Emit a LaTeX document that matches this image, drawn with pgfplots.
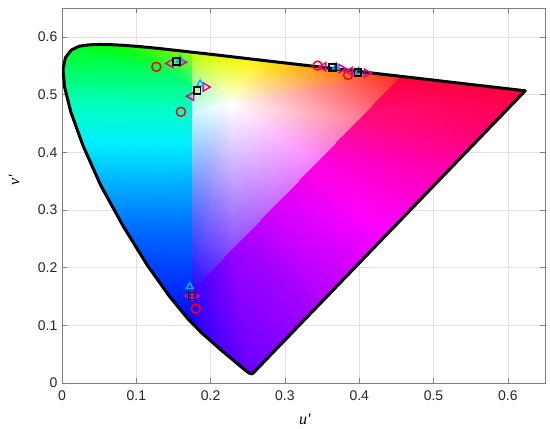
\documentclass[border=0pt]{standalone}
\usepackage{fontspec}
\setmainfont{Liberation Sans}
\newfontfamily\lserif{Liberation Serif}
\usepackage{pgfplots}
\pgfplotsset{compat=1.18}
\definecolor{mcyan}{rgb}{0.0,0.68,1}
\definecolor{axgray}{rgb}{0.5,0.5,0.5}

\begin{document}
\begin{tikzpicture}
\begin{axis}[name=ax,
  width=362.25pt, height=281.25pt, scale only axis,
  xmin=0, xmax=0.65, ymin=0, ymax=0.65,
  xtick={0,0.1,0.2,0.3,0.4,0.5,0.6},
  ytick={0,0.1,0.2,0.3,0.4,0.5,0.6},
  grid=major, major grid style={black!12, line width=0.4pt},
  axis line style={axgray, line width=0.6pt},
  tick align=inside, major tick length=3.75pt,
  tick style={axgray, line width=0.5pt},
  ticklabel style={font=\fontsize{10.5}{12}\selectfont, text=black!85},
  /pgf/number format/assume math mode=true,
  xticklabel style={yshift=-2pt},
  xlabel={\lserif\itshape u'}, ylabel={\lserif\itshape v'},
  xlabel style={font=\fontsize{12}{14}\selectfont, at={(axis description cs:0.503,-0.096)}, anchor=center},
  ylabel style={font=\fontsize{12}{14}\selectfont, at={(axis description cs:-0.099,0.54)}, anchor=center},
]
% colour fill: triangles with explicit vertex colours
\addplot[patch, patch type=triangle, shader=interp, mesh/color input=explicit,
  point meta=explicit symbolic] table[meta=c] {
x y c
0.175 0.104 rgb=0.05,0,1
0.1690 0.1119 rgb=0.02,0.02,1
0.175 0.1119 rgb=0.02,0.02,1
0.1690 0.1119 rgb=0.02,0.02,1
0.1441 0.1510 rgb=0,0.15,1
0.175 0.158 rgb=0,0.16,1
0.1690 0.1119 rgb=0.02,0.02,1
0.175 0.158 rgb=0,0.16,1
0.175 0.1119 rgb=0.02,0.02,1
0.1441 0.1510 rgb=0,0.15,1
0.1147 0.2044 rgb=0,0.27,1
0.175 0.2044 rgb=0,0.27,1
0.1441 0.1510 rgb=0,0.15,1
0.175 0.2044 rgb=0,0.27,1
0.175 0.158 rgb=0,0.16,1
0.1147 0.2044 rgb=0,0.27,1
0.0828 0.2708 rgb=0,0.44,1
0.175 0.2708 rgb=0,0.44,1
0.1147 0.2044 rgb=0,0.27,1
0.175 0.2708 rgb=0,0.44,1
0.175 0.2044 rgb=0,0.27,1
0.0828 0.2708 rgb=0,0.44,1
0.0521 0.3427 rgb=0,0.68,1
0.175 0.3427 rgb=0,0.68,1
0.0828 0.2708 rgb=0,0.44,1
0.175 0.3427 rgb=0,0.68,1
0.175 0.2708 rgb=0,0.44,1
0.0521 0.3427 rgb=0,0.68,1
0.0282 0.4117 rgb=0,0.93,1
0.175 0.4117 rgb=0,0.93,1
0.0521 0.3427 rgb=0,0.68,1
0.175 0.4117 rgb=0,0.93,1
0.175 0.3427 rgb=0,0.68,1
0.0282 0.4117 rgb=0,0.93,1
0.0119 0.4698 rgb=0,1,0.8
0.175 0.4698 rgb=0,1,0.8
0.0282 0.4117 rgb=0,0.93,1
0.175 0.4698 rgb=0,1,0.8
0.175 0.4117 rgb=0,0.93,1
0.0119 0.4698 rgb=0,1,0.8
0.0035 0.5131 rgb=0,1,0.55
0.175 0.5131 rgb=0,1,0.55
0.0119 0.4698 rgb=0,1,0.8
0.175 0.5131 rgb=0,1,0.55
0.175 0.4698 rgb=0,1,0.8
0.175 0.5131 rgb=0,1,0.55
0.0035 0.5131 rgb=0,1,0.55
0.0014 0.5432 rgb=0,1,0.38
0.175 0.5131 rgb=0,1,0.55
0.0014 0.5432 rgb=0,1,0.38
0.0046 0.5638 rgb=0,1,0.25
0.175 0.5131 rgb=0,1,0.55
0.0046 0.5638 rgb=0,1,0.25
0.0123 0.5770 rgb=0,1,0.18
0.175 0.5131 rgb=0,1,0.55
0.0123 0.5770 rgb=0,1,0.18
0.0231 0.5837 rgb=0,1,0.12
0.175 0.5131 rgb=0,1,0.55
0.0231 0.5837 rgb=0,1,0.12
0.0360 0.5861 rgb=0,1,0.08
0.175 0.5131 rgb=0,1,0.55
0.0360 0.5861 rgb=0,1,0.08
0.0501 0.5868 rgb=0,1,0.04
0.175 0.5131 rgb=0,1,0.55
0.0501 0.5868 rgb=0,1,0.04
0.0792 0.5856 rgb=0.05,1,0
0.175 0.5131 rgb=0,1,0.55
0.0792 0.5856 rgb=0.05,1,0
0.1127 0.5821 rgb=0.22,1,0
0.175 0.5131 rgb=0,1,0.55
0.1127 0.5821 rgb=0.22,1,0
0.1531 0.5766 rgb=0.45,1,0
0.175 0.5131 rgb=0,1,0.55
0.1531 0.5766 rgb=0.45,1,0
0.175 0.5734 rgb=0.6,1,0
0.228 0.482 rgb=1,1,1
0.175 0.5734 rgb=0.72,1,0
0.2026 0.5694 rgb=0.85,1,0
0.228 0.482 rgb=1,1,1
0.2026 0.5694 rgb=0.85,1,0
0.2623 0.5604 rgb=1,0.95,0
0.228 0.482 rgb=1,1,1
0.2623 0.5604 rgb=1,0.95,0
0.3315 0.5501 rgb=1,0.68,0
0.228 0.482 rgb=1,1,1
0.3315 0.5501 rgb=1,0.68,0
0.4035 0.5393 rgb=1,0.4,0
0.228 0.482 rgb=1,1,1
0.4035 0.5393 rgb=1,0.4,0
0.457 0.531 rgb=1,0.15,0.1
0.228 0.482 rgb=1,1,1
0.457 0.531 rgb=1,0.15,0.1
0.4006 0.4564 rgb=1,0.5,0.6
0.228 0.482 rgb=1,1,1
0.4006 0.4564 rgb=1,0.5,0.6
0.3442 0.3818 rgb=0.98,0.5,1
0.228 0.482 rgb=1,1,1
0.3442 0.3818 rgb=0.98,0.5,1
0.2878 0.3072 rgb=0.78,0.42,1
0.228 0.482 rgb=1,1,1
0.2878 0.3072 rgb=0.78,0.42,1
0.2314 0.2326 rgb=0.55,0.3,1
0.228 0.482 rgb=1,1,1
0.2314 0.2326 rgb=0.55,0.3,1
0.175 0.158 rgb=0.12,0.02,1
0.228 0.482 rgb=1,1,1
0.175 0.158 rgb=0.12,0.02,1
0.175 0.2044 rgb=0.16,0.16,1
0.228 0.482 rgb=1,1,1
0.175 0.2044 rgb=0.16,0.16,1
0.175 0.2708 rgb=0.28,0.35,1
0.228 0.482 rgb=1,1,1
0.175 0.2708 rgb=0.28,0.35,1
0.175 0.3427 rgb=0.42,0.58,1
0.228 0.482 rgb=1,1,1
0.175 0.3427 rgb=0.42,0.58,1
0.175 0.4117 rgb=0.58,0.82,1
0.228 0.482 rgb=1,1,1
0.175 0.4117 rgb=0.58,0.82,1
0.175 0.4698 rgb=0.8,0.98,1
0.228 0.482 rgb=1,1,1
0.175 0.4698 rgb=0.8,0.98,1
0.175 0.5131 rgb=0.62,1,0.7
0.228 0.482 rgb=1,1,1
0.175 0.5131 rgb=0.62,1,0.7
0.175 0.545 rgb=0.68,1,0.35
0.228 0.482 rgb=1,1,1
0.175 0.545 rgb=0.68,1,0.35
0.175 0.5734 rgb=0.72,1,0
0.457 0.531 rgb=1,0,0.2
0.4692 0.5296 rgb=1,0,0.22
0.4006 0.4564 rgb=1,0.05,0.5
0.4692 0.5296 rgb=1,0,0.22
0.5203 0.5219 rgb=1,0,0.25
0.4006 0.4564 rgb=1,0.05,0.5
0.5203 0.5219 rgb=1,0,0.25
0.5830 0.5125 rgb=1,0,0.25
0.4006 0.4564 rgb=1,0.05,0.5
0.5830 0.5125 rgb=1,0,0.25
0.6234 0.5065 rgb=1,0,0.25
0.4006 0.4564 rgb=1,0.05,0.5
0.6234 0.5065 rgb=1,0,0.25
0.5776 0.4452 rgb=1,0,0.4
0.4006 0.4564 rgb=1,0.05,0.5
0.5776 0.4452 rgb=1,0,0.4
0.5318 0.3840 rgb=1,0,0.62
0.4006 0.4564 rgb=1,0.05,0.5
0.4006 0.4564 rgb=1,0.05,0.5
0.5318 0.3840 rgb=1,0,0.62
0.3442 0.3818 rgb=1,0,0.88
0.5318 0.3840 rgb=1,0,0.62
0.4401 0.2616 rgb=1,0,1
0.3442 0.3818 rgb=1,0,0.88
0.3442 0.3818 rgb=1,0,0.88
0.4401 0.2616 rgb=1,0,1
0.2878 0.3072 rgb=0.85,0,1
0.4401 0.2616 rgb=1,0,1
0.3485 0.1391 rgb=0.68,0,1
0.2878 0.3072 rgb=0.85,0,1
0.2878 0.3072 rgb=0.85,0,1
0.3485 0.1391 rgb=0.68,0,1
0.2314 0.2326 rgb=0.6,0,1
0.3485 0.1391 rgb=0.68,0,1
0.2568 0.0166 rgb=0.42,0,1
0.2314 0.2326 rgb=0.6,0,1
0.2314 0.2326 rgb=0.6,0,1
0.2568 0.0166 rgb=0.42,0,1
0.2557 0.0159 rgb=0.42,0,1
0.2314 0.2326 rgb=0.6,0,1
0.2557 0.0159 rgb=0.42,0,1
0.2522 0.0169 rgb=0.42,0,1
0.2314 0.2326 rgb=0.6,0,1
0.2522 0.0169 rgb=0.42,0,1
0.2461 0.0226 rgb=0.4,0,1
0.2314 0.2326 rgb=0.6,0,1
0.2461 0.0226 rgb=0.4,0,1
0.2347 0.0350 rgb=0.36,0,1
0.2314 0.2326 rgb=0.6,0,1
0.2347 0.0350 rgb=0.36,0,1
0.2161 0.0549 rgb=0.3,0,1
0.2314 0.2326 rgb=0.6,0,1
0.2161 0.0549 rgb=0.3,0,1
0.1877 0.0871 rgb=0.2,0,1
0.2314 0.2326 rgb=0.6,0,1
0.1877 0.0871 rgb=0.2,0,1
0.175 0.104 rgb=0.12,0,1
0.2314 0.2326 rgb=0.6,0,1
0.175 0.104 rgb=0.12,0,1
0.175 0.1119 rgb=0.12,0,1
0.2314 0.2326 rgb=0.6,0,1
0.175 0.1119 rgb=0.12,0,1
0.175 0.158 rgb=0.2,0,1
};
% spectral locus and purple line
\addplot[black, line width=2.25pt, line join=round, line cap=round] coordinates {
(0.2568,0.0166) (0.2557,0.0159) (0.2522,0.0169) (0.2461,0.0226) (0.2347,0.0350)
(0.2161,0.0549) (0.1877,0.0871) (0.1690,0.1119) (0.1441,0.1510) (0.1147,0.2044)
(0.0828,0.2708) (0.0521,0.3427) (0.0282,0.4117) (0.0119,0.4698) (0.0035,0.5131)
(0.0014,0.5432) (0.0046,0.5638) (0.0123,0.5770) (0.0231,0.5837) (0.0360,0.5861)
(0.0501,0.5868) (0.0643,0.5865) (0.0792,0.5856) (0.0953,0.5841) (0.1127,0.5821)
(0.1319,0.5796) (0.1531,0.5766) (0.2026,0.5694) (0.2623,0.5604) (0.3315,0.5501)
(0.4035,0.5393) (0.4692,0.5296) (0.5203,0.5219) (0.5830,0.5125) (0.6234,0.5065)
(0.2568,0.0166)
};
% measured points
\addplot[only marks, mark=o, red, mark size=3.4pt, line width=1.1pt] coordinates {
(0.127,0.548) (0.160,0.470) (0.344,0.550) (0.385,0.534) (0.180,0.129)
};
\addplot[only marks, mark=triangle, magenta, mark size=3.6pt, line width=1.1pt,
  mark options={rotate=90}] coordinates {
(0.146,0.554) (0.174,0.497) (0.352,0.548) (0.388,0.540) (0.172,0.151)
};
\addplot[only marks, mark=triangle, magenta, mark size=3.6pt, line width=1.1pt,
  mark options={rotate=-90}] coordinates {
(0.161,0.556) (0.193,0.513) (0.376,0.545) (0.410,0.537) (0.178,0.151)
};
\addplot[only marks, mark=triangle, mcyan, mark size=3pt, line width=1.1pt] coordinates {
(0.159,0.560) (0.186,0.518) (0.369,0.548) (0.399,0.540) (0.172,0.167)
};
\addplot[only marks, mark=square, black, mark size=2.6pt, line width=1.1pt] coordinates {
(0.154,0.557) (0.182,0.507) (0.364,0.547) (0.398,0.538) (0.175,0.151)
};
\end{axis}
\path ([xshift=-46.5pt,yshift=-34.5pt]ax.south west) rectangle ([xshift=3.75pt,yshift=6pt]ax.north east);
\end{tikzpicture}
\end{document}
